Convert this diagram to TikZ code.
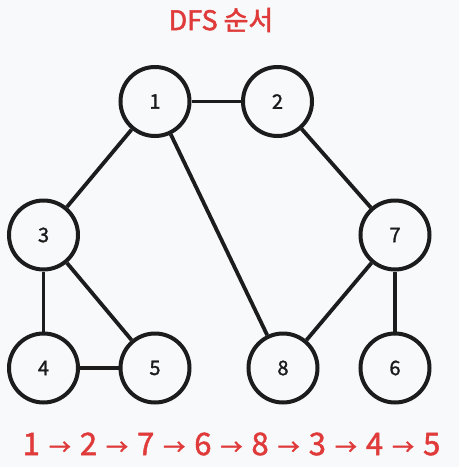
\documentclass[tikz,border=0pt]{standalone}
\usepackage{fontspec}
\setmainfont{Noto Sans CJK KR}
\definecolor{bg}{HTML}{F8F9FB}
\definecolor{accent}{HTML}{E03B3B}
\definecolor{ink}{HTML}{1C1C1C}
\newcommand{\arr}{\hspace{9pt}{\fontsize{22}{22}\selectfont →}\hspace{9pt}}
\newcommand{\heavy}[2]{\special{pdf:code 2 Tr #1 w}#2\special{pdf:code 0 Tr}}
\begin{document}
\begin{tikzpicture}[x=1pt,y=-1pt,
  vertex/.style={circle,draw=ink,line width=4pt,minimum size=69pt,inner sep=0pt,
    font=\fontsize{20}{20}\selectfont,text=ink},
  edge/.style={draw=ink,line width=3.8pt}]
\fill[bg] (0,0) rectangle (459,467);
\useasboundingbox (0,0) rectangle (459,467);
\node[vertex] (n1) at (155,101.5) {\heavy{0.3}{1}};
\node[vertex] (n2) at (277.5,101.5) {\heavy{0.3}{2}};
\node[vertex] (n3) at (43.5,235) {\heavy{0.3}{3}};
\node[vertex] (n7) at (395,235) {\heavy{0.3}{7}};
\node[vertex] (n4) at (43.5,368) {\heavy{0.3}{4}};
\node[vertex] (n5) at (155,368) {\heavy{0.3}{5}};
\node[vertex] (n8) at (283,368) {\heavy{0.3}{8}};
\node[vertex] (n6) at (395,368) {\heavy{0.3}{6}};
\draw[edge] (n1) -- (n2);
\draw[edge] (n1) -- (n3);
\draw[edge] (n1) -- (n8);
\draw[edge] (n2) -- (n7);
\draw[edge] (n3) -- (n4);
\draw[edge] (n3) -- (n5);
\draw[edge] (n4) -- (n5);
\draw[edge] (n7) -- (n8);
\draw[edge] (n7) -- (n6);
\node[text=accent,font=\fontsize{27}{27}\selectfont] (title) at (221,20) {\heavy{0.5}{DFS 순서}};
\node[text=accent,font=\fontsize{31}{31}\selectfont] (seq) at (231.5,444) {\heavy{0.45}{1\arr 2\arr 7\arr 6\arr 8\arr 3\arr 4\arr 5}};
\end{tikzpicture}
\end{document}
